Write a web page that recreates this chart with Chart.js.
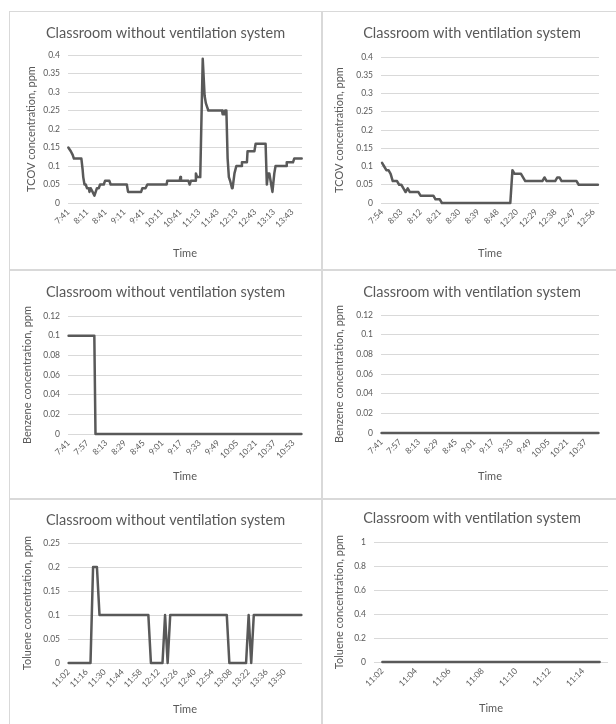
<!DOCTYPE html>
<html><head><meta charset="utf-8">
<script src="https://cdn.jsdelivr.net/npm/chart.js@4.4.1/dist/chart.umd.min.js"></script>
<style>
html,body{margin:0;padding:0;background:#fff;overflow:hidden;width:616px;height:724px}
.box{position:absolute;box-sizing:border-box;border:1px solid #d9d9d9}
canvas{position:absolute}
</style></head><body>
<script>
// ---------------- DATA ----------------
const titleNoVent = 'Classroom without ventilation system';
const titleVent = 'Classroom with ventilation system';
const xTitle = 'Time';

// TCOV, classroom without ventilation (sample index, ppm) vertices
const tcovNoVentTicks = ['7:41','8:11','8:41','9:11','9:41','10:11','10:41','11:13','11:43','12:13','12:43','13:13','13:43'];
const tcovNoVentCount = 376;
const tcovNoVent = [[0,0.15],[1,0.15],[4,0.14],[7,0.13],[9,0.12],[21,0.12],[23,0.09],[24,0.07],[26,0.05],[28,0.05],[30,0.04],[33,0.04],[34,0.03],[36,0.04],[39,0.03],[42,0.02],[44,0.03],[46,0.04],[49,0.04],[51,0.05],[57,0.05],[59,0.06],[66,0.06],[68,0.05],[94,0.05],[96,0.03],[117,0.03],[119,0.04],[124,0.04],[127,0.05],[158,0.05],[159,0.06],[179,0.06],[180,0.07],[181,0.06],[193,0.06],[195,0.05],[197,0.06],[204,0.06],[205,0.08],[207,0.07],[212,0.07],[216,0.39],[219,0.29],[221,0.27],[223,0.26],[225,0.25],[247,0.25],[248,0.24],[251,0.24],[252,0.25],[254,0.25],[256,0.12],[258,0.07],[260,0.06],[263,0.04],[264,0.04],[267,0.08],[270,0.1],[278,0.1],[279,0.11],[287,0.11],[288,0.14],[299,0.14],[301,0.16],[317,0.16],[319,0.05],[321,0.08],[323,0.08],[325,0.06],[328,0.03],[331,0.08],[333,0.1],[350,0.1],[351,0.11],[361,0.11],[363,0.12],[375,0.12]];

// TCOV, classroom with ventilation
const tcovVentTicks = ['7:54','8:03','8:12','8:21','8:30','8:39','8:48','12:20','12:29','12:38','12:47','12:56'];
const tcovVentCount = 102;
const tcovVent = [[0,0.11],[1,0.1],[2,0.09],[3,0.09],[4,0.08],[5,0.06],[7,0.06],[8,0.05],[9,0.05],[10,0.04],[11,0.03],[12,0.04],[13,0.03],[17,0.03],[18,0.02],[24,0.02],[25,0.01],[27,0.01],[28,0],[60,0],[61,0.09],[62,0.08],[65,0.08],[67,0.06],[75,0.06],[76,0.07],[77,0.06],[81,0.06],[82,0.07],[83,0.07],[84,0.06],[91,0.06],[92,0.05],[101,0.05]];

// Benzene, without ventilation
const benzNoVentTicks = ['7:41','7:57','8:13','8:29','8:45','9:01','9:17','9:33','9:49','10:05','10:21','10:37','10:53'];
const benzNoVentCount = 200;
const benzNoVent = [[0,0.1],[22,0.1],[23,0],[199,0]];

// Benzene, with ventilation
const benzVentTicks = ['7:41','7:57','8:13','8:29','8:45','9:01','9:17','9:33','9:49','10:05','10:21','10:37'];
const benzVentCount = 188;
const benzVent = [[0,0],[187,0]];

// Toluene, without ventilation
const tolNoVentTicks = ['11:02','11:16','11:30','11:44','11:58','12:12','12:26','12:40','12:54','13:08','13:22','13:36','13:50'];
const tolNoVentCount = 182;
const tolNoVent = [[0,0],[17,0],[19,0.2],[22,0.2],[24,0.1],[62,0.1],[64,0],[73,0],[75,0.1],[77,0],[79,0.1],[123,0.1],[125,0],[138,0],[140,0.1],[142,0],[144,0.1],[181,0.1]];

// Toluene, with ventilation
const tolVentTicks = ['11:02','11:04','11:06','11:08','11:10','11:12','11:14'];
const tolVentCount = 14;
const tolVent = [[0,0],[13,0]];

// ---------------- RENDER ----------------
const FONT = 'Lato, "Open Sans", sans-serif';
const TXT = '#595959';
const AX_SIZE = 11, TICK_SIZE = 8.5, TITLE_SIZE = 14.5;

const panelTitle = {
  id: 'panelTitle',
  afterDraw(chart, args, o) {
    const ctx = chart.ctx;
    ctx.save();
    ctx.font = o.size + 'px ' + FONT;
    ctx.fillStyle = TXT;
    ctx.textAlign = 'center';
    ctx.textBaseline = 'middle';
    ctx.fillText(o.text, chart.width / 2, o.y);
    ctx.restore();
  }
};

function fmt(v) { return String(parseFloat(Number(v).toFixed(4))); }

function makePanel(c) {
  const [bx, by, bw, bh] = c.box;
  const [L, T, R, B] = c.plot;
  const div = document.createElement('div');
  div.className = 'box';
  Object.assign(div.style, {left: bx + 'px', top: by + 'px', width: bw + 'px', height: bh + 'px'});
  document.body.appendChild(div);
  const cv = document.createElement('canvas');
  cv.width = bw; cv.height = bh;
  Object.assign(cv.style, {left: bx + 'px', top: by + 'px', width: bw + 'px', height: bh + 'px'});
  document.body.appendChild(cv);
  const lh = AX_SIZE * 1.2;
  new Chart(cv, {
    type: 'line',
    data: {datasets: [{
      data: c.series.map(([x, y]) => ({x, y})),
      borderColor: '#595959', borderWidth: 2.5, pointRadius: 0, tension: 0,
      borderJoinStyle: 'round', borderCapStyle: 'round', clip: 4, fill: false
    }]},
    options: {
      responsive: false, animation: false, devicePixelRatio: 1,
      layout: {padding: {left: 0, top: T - by, right: bx + bw - R, bottom: 0}},
      plugins: {
        legend: {display: false}, tooltip: {enabled: false}, title: {display: false},
        panelTitle: {text: c.title, y: c.titleY - by, size: TITLE_SIZE}
      },
      scales: {
        x: {
          type: 'linear', min: -0.5, max: c.count - 0.5,
          grid: {display: false, drawTicks: false}, border: {display: false},
          afterBuildTicks: s => { s.ticks = c.ticks.map((_, i) => ({value: i * c.step})); },
          afterFit: s => { s.height = by + bh - B; },
          ticks: {autoSkip: false, maxRotation: 45, minRotation: 45, padding: 4, color: TXT,
            font: {family: FONT, size: TICK_SIZE},
            callback: v => c.ticks[Math.round(v / c.step)]},
          title: {display: true, text: xTitle, color: TXT, font: {family: FONT, size: AX_SIZE},
            padding: {top: 0, bottom: by + bh - c.timeY - lh / 2}}
        },
        y: {
          min: 0, max: c.yMax,
          grid: {color: '#d9d9d9', lineWidth: 1, drawTicks: false}, border: {display: false},
          afterFit: s => { s.width = L - bx; },
          ticks: {stepSize: c.yStep, padding: 8, color: TXT, font: {family: FONT, size: TICK_SIZE}, callback: v => fmt(v)},
          title: {display: true, text: c.yTitle, color: TXT, font: {family: FONT, size: AX_SIZE},
            padding: {top: c.yTitleX - bx - lh / 2, bottom: 0}}
        }
      }
    },
    plugins: [panelTitle]
  });
}

const LCOL = [9, 313], RCOL = [322, 300];
const ROW1 = [11, 259], ROW2 = [270, 229], ROW3 = [499, 240];

makePanel({box: [LCOL[0], ROW1[0], LCOL[1], ROW1[1]], plot: [68, 55, 302, 203], titleY: 33, timeY: 253, yTitleX: 31,
  title: titleNoVent, yTitle: 'TCOV concentration, ppm', yMax: 0.4, yStep: 0.05,
  series: tcovNoVent, count: tcovNoVentCount, ticks: tcovNoVentTicks, step: 30});
makePanel({box: [RCOL[0], ROW1[0], RCOL[1], ROW1[1]], plot: [381, 57, 599, 203], titleY: 33, timeY: 253, yTitleX: 339,
  title: titleVent, yTitle: 'TCOV concentration, ppm', yMax: 0.4, yStep: 0.05,
  series: tcovVent, count: tcovVentCount, ticks: tcovVentTicks, step: 9});
makePanel({box: [LCOL[0], ROW2[0], LCOL[1], ROW2[1]], plot: [68, 316, 302, 434], titleY: 292, timeY: 476, yTitleX: 27,
  title: titleNoVent, yTitle: 'Benzene concentration, ppm', yMax: 0.12, yStep: 0.02,
  series: benzNoVent, count: benzNoVentCount, ticks: benzNoVentTicks, step: 16});
makePanel({box: [RCOL[0], ROW2[0], RCOL[1], ROW2[1]], plot: [381, 315, 599, 433], titleY: 292, timeY: 476, yTitleX: 339,
  title: titleVent, yTitle: 'Benzene concentration, ppm', yMax: 0.12, yStep: 0.02,
  series: benzVent, count: benzVentCount, ticks: benzVentTicks, step: 16});
makePanel({box: [LCOL[0], ROW3[0], LCOL[1], ROW3[1]], plot: [68, 543, 302, 663], titleY: 520, timeY: 709, yTitleX: 27,
  title: titleNoVent, yTitle: 'Toluene concentration, ppm', yMax: 0.25, yStep: 0.05,
  series: tolNoVent, count: tolNoVentCount, ticks: tolNoVentTicks, step: 14});
makePanel({box: [RCOL[0], ROW3[0], RCOL[1], ROW3[1]], plot: [374, 542, 608, 662], titleY: 518, timeY: 708, yTitleX: 339,
  title: titleVent, yTitle: 'Toluene concentration, ppm', yMax: 1, yStep: 0.2,
  series: tolVent, count: tolVentCount, ticks: tolVentTicks, step: 2});
</script>
</body></html>
